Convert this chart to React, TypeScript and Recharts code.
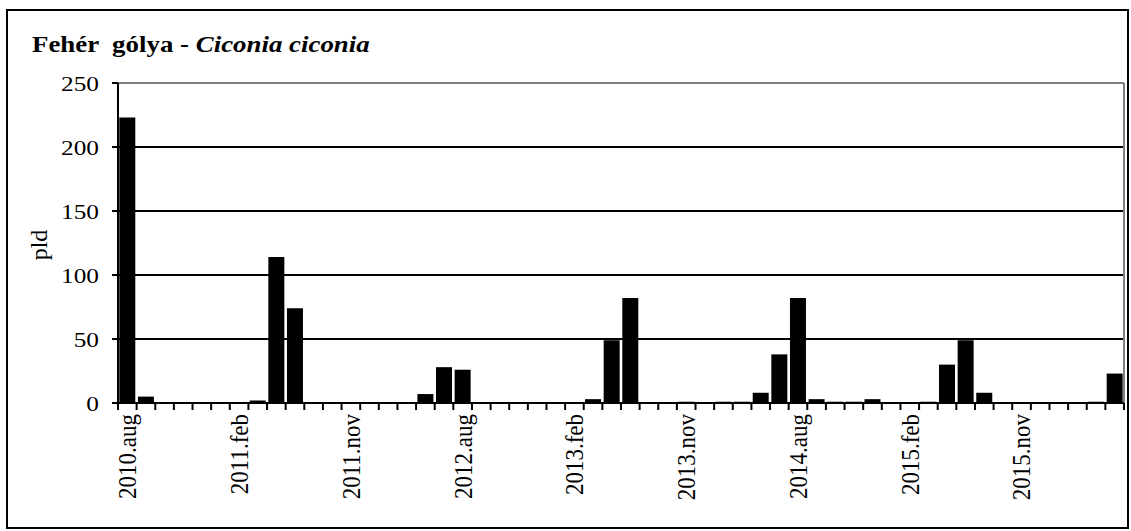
import React from 'react';
import { BarChart, Bar, XAxis, YAxis, CartesianGrid, ReferenceLine } from 'recharts';

// survey months (category axis)
const months = [
  '2010.aug', '2010.szept', '2010.okt', '2010.nov', '2010.dec', '2011.jan',
  '2011.feb', '2011.márc', '2011.ápr', '2011.máj', '2011.jún', '2011.aug',
  '2011.nov', '2011.dec', '2012.márc', '2012.ápr', '2012.jún', '2012.júl',
  '2012.aug', '2012.szept', '2012.okt', '2012.nov', '2012.dec', '2013.jan',
  '2013.feb', '2013.márc', '2013.ápr', '2013.máj', '2013.jún', '2013.aug',
  '2013.nov', '2013.dec', '2014.jan', '2014.márc', '2014.ápr', '2014.jún',
  '2014.aug', '2014.szept', '2014.okt', '2014.nov', '2014.dec', '2015.jan',
  '2015.feb', '2015.márc', '2015.ápr', '2015.máj', '2015.jún', '2015.aug',
  '2015.nov', '2015.dec', '2016.jan', '2016.feb', '2016.márc', '2016.ápr',
];

// individuals counted (pld)
const counts = [
  223, 5, 0, 0, 0, 0,
  0, 2, 114, 74, 0, 0,
  0, 0, 0, 0, 7, 28,
  26, 0, 0, 0, 0, 0,
  0, 3, 49, 82, 0, 0,
  1, 0, 1, 1, 8, 38,
  82, 3, 1, 1, 3, 0,
  0, 1, 30, 49, 8, 0,
  0, 0, 0, 0, 1, 23,
];

const yTicks = [0, 50, 100, 150, 200, 250];

const data = months.map((m, i) => ({ month: m, pld: counts[i] }));

const FONT = "'Times New Roman', Times, 'Liberation Serif', Tinos, serif";
const W = 1131;
const H = 531;
const MARGIN_RIGHT = 7;
const PLOT_W = 1006;
const HALF_BAND = PLOT_W / months.length / 2;

const YTick = ({ x, y, payload }: any) => (
  <g transform={`translate(${x},${y}) scale(1.15,1)`}>
    <text textAnchor="end" dy="0.35em" fontFamily={FONT} fontSize={22} fill="#000">
      {payload.value}
    </text>
  </g>
);

const XTick = ({ x, y, payload, index }: any) => (
  <g>
    <line x1={x - HALF_BAND} x2={x - HALF_BAND} y1={y} y2={y + 7} stroke="#000" strokeWidth={2} />
    {index === months.length - 1 && (
      <line x1={x + HALF_BAND} x2={x + HALF_BAND} y1={y} y2={y + 7} stroke="#000" strokeWidth={2} />
    )}
    {index % 6 === 0 && (
      <text
        transform={`translate(${x},${y + 11}) scale(1.1,1) rotate(-90)`}
        textAnchor="end"
        dy="0.35em"
        fontFamily={FONT}
        fontSize={23}
        fill="#000"
      >
        {payload.value}
      </text>
    )}
  </g>
);

export default function App() {
  return (
    <div style={{ position: 'absolute', left: 0, top: 0, width: W, height: H, background: '#fff' }}>
      <div
        style={{
          position: 'absolute',
          left: 6,
          top: 9,
          width: 1123,
          height: 520,
          border: '2px solid #000',
          boxSizing: 'border-box',
        }}
      />
      <div
        style={{
          position: 'absolute',
          left: 32,
          top: 32,
          fontFamily: FONT,
          fontSize: 24,
          lineHeight: '24px',
          fontWeight: 'bold',
          whiteSpace: 'pre',
          transform: 'scaleX(1.12)',
          transformOrigin: 'left center',
        }}
      >
        {'Fehér  gólya - '}
        <i>Ciconia ciconia</i>
      </div>
      <div
        style={{
          position: 'absolute',
          left: 39,
          top: 245,
          fontFamily: FONT,
          fontSize: 24,
          lineHeight: '24px',
          whiteSpace: 'nowrap',
          transform: 'translate(-50%, -50%) rotate(-90deg)',
        }}
      >
        pld
      </div>
      <div style={{ position: 'absolute', left: 0, top: 0 }}>
        <BarChart
          width={W}
          height={H}
          data={data}
          margin={{ top: 83, right: MARGIN_RIGHT, bottom: 0, left: 0 }}
          barCategoryGap="7%"
        >
          <CartesianGrid vertical={false} stroke="#000" strokeWidth={2} />
          <CartesianGrid
            horizontal={false}
            verticalPoints={[W - MARGIN_RIGHT]}
            stroke="#808080"
            strokeWidth={2}
          />
          <XAxis
            dataKey="month"
            height={128}
            interval={0}
            tickSize={0}
            tickMargin={0}
            tickLine={false}
            axisLine={{ stroke: '#000', strokeWidth: 2 }}
            tick={(p: any) => <XTick {...p} />}
          />
          <YAxis
            width={118}
            domain={[0, 250]}
            ticks={yTicks}
            interval={0}
            tickSize={6}
            tickMargin={13}
            tickLine={{ stroke: '#000', strokeWidth: 2 }}
            axisLine={{ stroke: '#000', strokeWidth: 2 }}
            tick={(p: any) => <YTick {...p} />}
          />
          <ReferenceLine y={250} stroke="#808080" strokeWidth={2} />
          <Bar dataKey="pld" fill="#000" isAnimationActive={false} />
        </BarChart>
      </div>
    </div>
  );
}
